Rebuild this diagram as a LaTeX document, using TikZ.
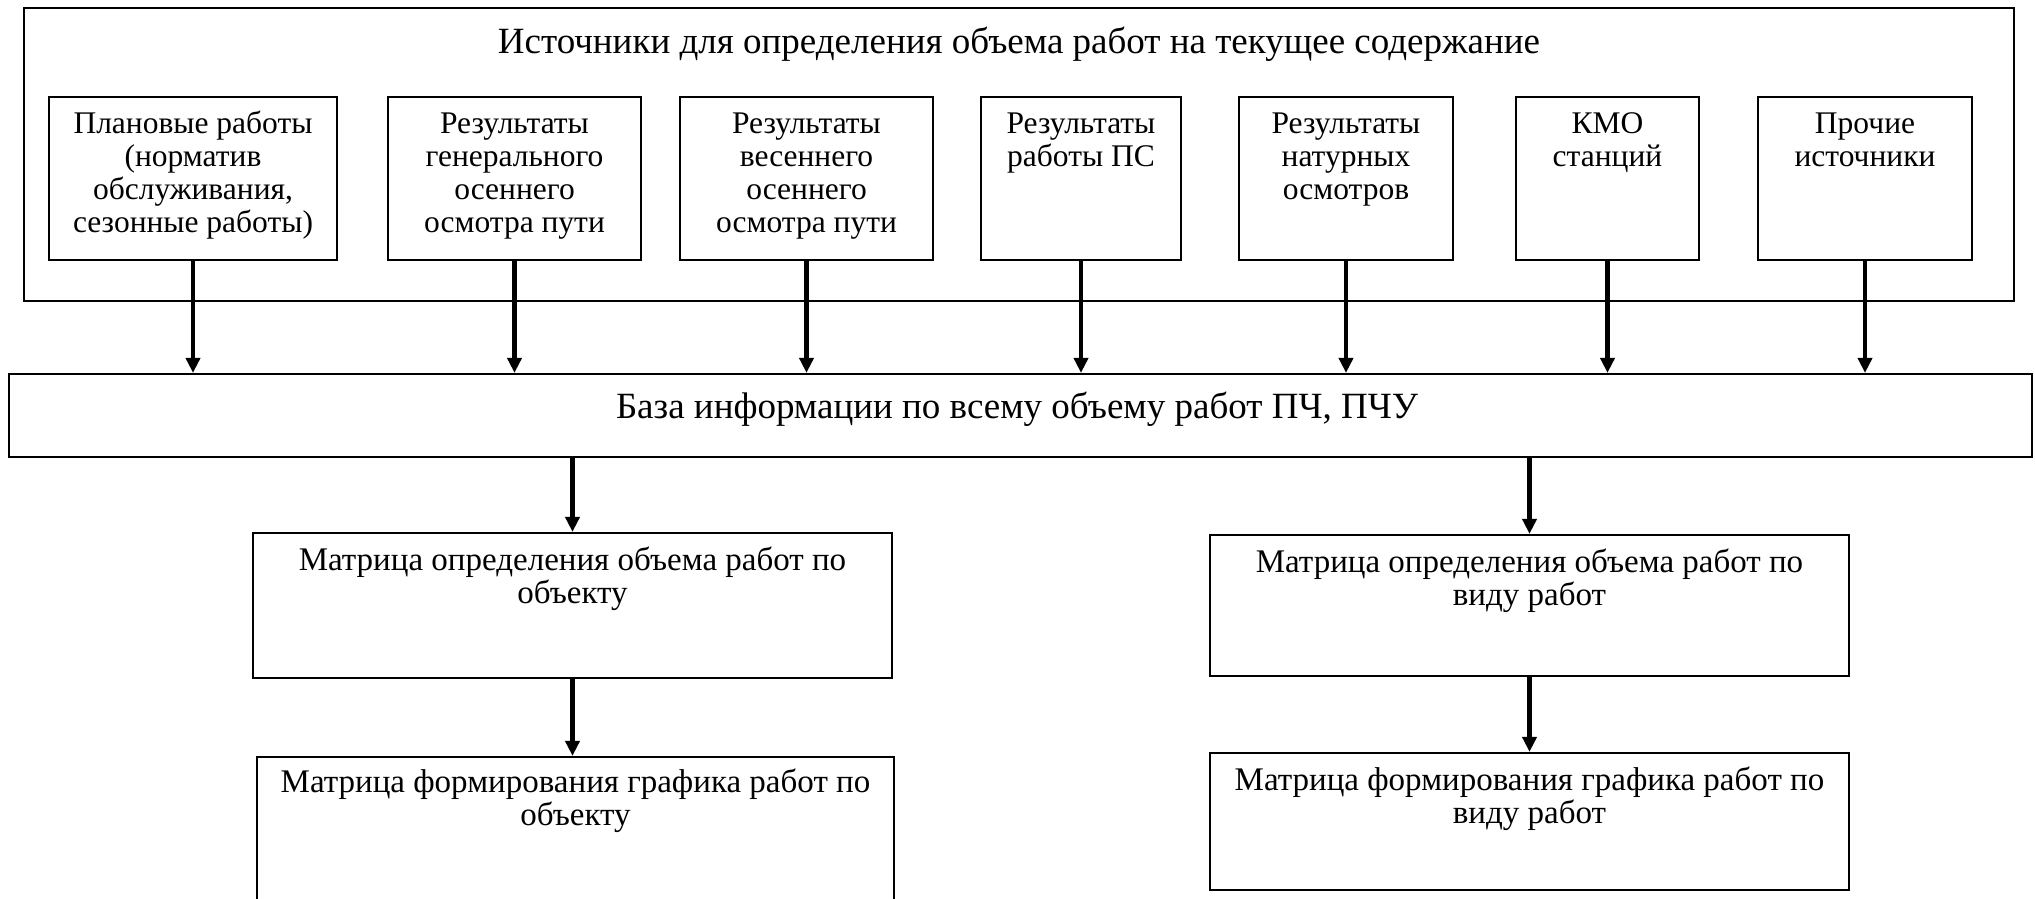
\documentclass[tikz,border=0pt]{standalone}
\usepackage{fontspec}
\setmainfont{Liberation Serif}
\usetikzlibrary{arrows.meta}
\tikzset{
  frame/.style={draw=black, line width=2.2pt, inner sep=0pt, rectangle},
  txt/.style={inner sep=0pt, anchor=base},
  bigtxt/.style={txt, font=\fontsize{37}{42}\selectfont},
  smalltxt/.style={txt, font=\fontsize{31.5}{33}\selectfont},
  mattxt/.style={txt, font=\fontsize{33}{33}\selectfont},
  arr/.style={line width=4.5pt, -{Triangle[length=15pt,width=14pt]}}
}
\newcommand{\cbox}[2]{\parbox[t]{#1}{\centering #2}}
\begin{document}
\begin{tikzpicture}[x=1pt,y=-1pt]
\useasboundingbox (0,0) rectangle (2035,898);
\clip (0,0) rectangle (2035,898);
% outer frame
\node[frame, minimum width=1990pt, minimum height=293pt] (outer) at (1019,154.5) {};
\node[bigtxt] (title) at (1019,53) {Источники для определения объема работ на текущее содержание};
% source boxes
\node[frame, minimum width=288pt, minimum height=163pt] (b1) at (193,178.5) {};
\node[frame, minimum width=253pt, minimum height=163pt] (b2) at (514.5,178.5) {};
\node[frame, minimum width=253pt, minimum height=163pt] (b3) at (806.5,178.5) {};
\node[frame, minimum width=200pt, minimum height=163pt] (b4) at (1081,178.5) {};
\node[frame, minimum width=214pt, minimum height=163pt] (b5) at (1346,178.5) {};
\node[frame, minimum width=183pt, minimum height=163pt] (b6) at (1607.5,178.5) {};
\node[frame, minimum width=214pt, minimum height=163pt] (b7) at (1865,178.5) {};
\node[smalltxt] (t1) at (193,133) {\cbox{300pt}{Плановые работы\\(норматив\\обслуживания,\\сезонные работы)}};
\node[smalltxt] (t2) at (514.5,133) {\cbox{300pt}{Результаты\\генерального\\осеннего\\осмотра пути}};
\node[smalltxt] (t3) at (806.5,133) {\cbox{300pt}{Результаты\\весеннего\\осеннего\\осмотра пути}};
\node[smalltxt] (t4) at (1081,133) {\cbox{300pt}{Результаты\\работы ПС}};
\node[smalltxt] (t5) at (1346,133) {\cbox{300pt}{Результаты\\натурных\\осмотров}};
\node[smalltxt] (t6) at (1607.5,133) {\cbox{300pt}{КМО\\станций}};
\node[smalltxt] (t7) at (1865,133) {\cbox{300pt}{Прочие\\источники}};
% base
\node[frame, minimum width=2023pt, minimum height=83pt] (base) at (1020.5,415.5) {};
\node[bigtxt] (basetxt) at (1017,418) {База информации по всему объему работ ПЧ, ПЧУ};
% matrices
\node[frame, minimum width=639pt, minimum height=145pt] (m1) at (572.5,605.5) {};
\node[frame, minimum width=637pt, minimum height=160pt] (m2) at (575.5,837) {};
\node[frame, minimum width=639pt, minimum height=141pt] (m3) at (1529.5,605.5) {};
\node[frame, minimum width=639pt, minimum height=137pt] (m4) at (1529.5,821.5) {};
\node[mattxt] (mt1) at (572.5,570) {\cbox{630pt}{Матрица определения объема работ по\\объекту}};
\node[mattxt] (mt2) at (575.5,792) {\cbox{630pt}{Матрица формирования графика работ по\\объекту}};
\node[mattxt] (mt3) at (1529.5,572) {\cbox{630pt}{Матрица определения объема работ по\\виду работ}};
\node[mattxt] (mt4) at (1529.5,790) {\cbox{630pt}{Матрица формирования графика работ по\\виду работ}};
% arrows
\foreach \b in {b1,b2,b3,b4,b5,b6,b7}
  \draw[arr] (\b.south) -- (\b.south |- base.north);
\draw[arr] (base.south -| m1.north) -- (m1.north);
\draw[arr] (base.south -| m3.north) -- (m3.north);
\draw[arr] (m1.south) -- (m1.south |- m2.north);
\draw[arr] (m3.south) -- (m3.south |- m4.north);
\end{tikzpicture}
\end{document}
